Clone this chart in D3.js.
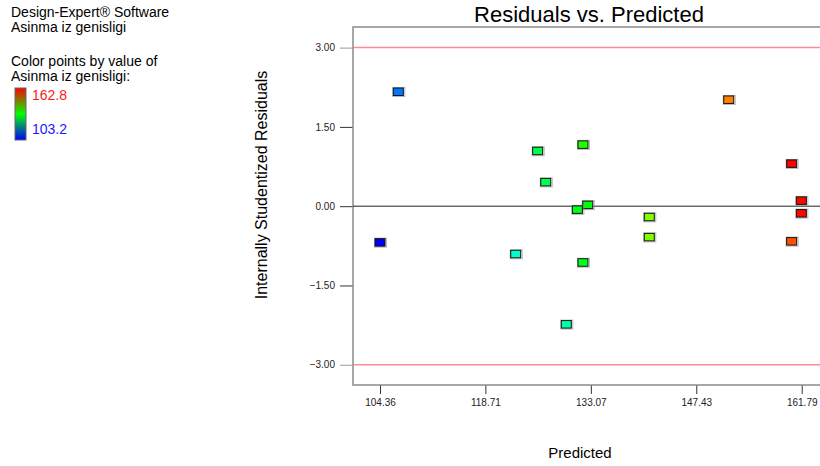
<!DOCTYPE html>
<head>
    <meta charset="utf-8">
</head>

<style type="text/css">
    body {
        margin: 0;
        background: #fff;
        font-family: "Liberation Sans", Arial, sans-serif;
    }
    .info text {
        font-size: 14px;
        fill: #000;
    }
    .axis text {
        font-size: 10px;
        fill: #222;
    }
    .axis path.domain {
        display: none;
    }
    .axis line {
        stroke: #333;
    }
    .limit-line {
        stroke: #ff8c8c;
        stroke-width: 1.5;
    }
    .zero-line {
        stroke: #222;
        stroke-width: 1;
    }
    .frame {
        stroke: #8a8a8a;
        stroke-width: 1.5;
        fill: none;
    }
    .pt {
        stroke: #111;
        stroke-width: 1;
    }
    .pt-shadow {
        fill: none;
        stroke: #999;
        stroke-width: 1;
        opacity: 0.7;
    }
</style>

<body>
<div id="chart"></div>
</body>

<script src="https://d3js.org/d3.v7.min.js"></script>

<script>

// predicted values (x), internally studentized residuals (y), actual response (colour)
var predicted = [106.85, 151.85, 132.0, 125.83, 160.42, 126.93, 161.74, 132.65, 131.24, 161.74, 141.03, 141.03, 160.42, 104.36, 122.84, 132.0, 129.73];
var residuals = [2.16, 2.01, 1.16, 1.04, 0.80, 0.45, 0.10, 0.02, -0.07, -0.14, -0.21, -0.59, -0.67, -0.69, -0.91, -1.07, -2.24];
var actual    = [110.2, 155.4, 134.8, 128.5, 162.8, 128.0, 162.5, 132.5, 131.5, 162.5, 140.5, 140.5, 158.0, 103.2, 121.0, 131.5, 123.0];

var xTicks = [104.36, 118.71, 133.07, 147.43, 161.79];
var yTicks = [-3.00, -1.50, 0.00, 1.50, 3.00];
var limits = [-3, 3];
var colorRange = [103.2, 162.8];

var W = 820, H = 466;
var plot = {left: 353, right: 820, top: 27, bottom: 385};

var svg = d3.select("#chart").append("svg")
    .attr("width", W)
    .attr("height", H);

// left info block
var info = svg.append("g").attr("class", "info");
info.append("text").attr("x", 11).attr("y", 17).text("Design-Expert\u00ae Software");
info.append("text").attr("x", 11).attr("y", 32).text("Asinma iz genisligi");
info.append("text").attr("x", 11).attr("y", 66).text("Color points by value of");
info.append("text").attr("x", 11).attr("y", 81).text("Asinma iz genisligi:");

// legend gradient bar
var defs = svg.append("defs");
var grad = defs.append("linearGradient")
    .attr("id", "legend-grad")
    .attr("x1", 0).attr("y1", 0).attr("x2", 0).attr("y2", 1);
grad.append("stop").attr("offset", "0%").attr("stop-color", "#ff0000");
grad.append("stop").attr("offset", "50%").attr("stop-color", "#00ff00");
grad.append("stop").attr("offset", "100%").attr("stop-color", "#0000ff");

svg.append("rect")
    .attr("x", 15).attr("y", 88)
    .attr("width", 11).attr("height", 52)
    .attr("fill", "url(#legend-grad)")
    .attr("stroke", "#666")
    .attr("stroke-width", 1);

svg.append("text")
    .attr("x", 32).attr("y", 100)
    .attr("fill", "#ff1a1a")
    .style("font-size", "14px")
    .text(colorRange[1].toFixed(1));

svg.append("text")
    .attr("x", 32).attr("y", 134)
    .attr("fill", "#1a1aff")
    .style("font-size", "14px")
    .text(colorRange[0].toFixed(1));

// scales
var xscale = d3.scaleLinear()
    .domain([100.68, 164.28])
    .range([plot.left, plot.right]);

var yscale = d3.scaleLinear()
    .domain([-3.383, 3.39])
    .range([plot.bottom, plot.top]);

var color = d3.scaleLinear()
    .domain([colorRange[0], (colorRange[0] + colorRange[1]) / 2, colorRange[1]])
    .range(["#0000ff", "#00ff00", "#ff0000"])
    .interpolate(d3.interpolateHsl);

// title
svg.append("text")
    .attr("x", 589)
    .attr("y", 22)
    .attr("text-anchor", "middle")
    .style("font-size", "22px")
    .text("Residuals vs. Predicted");

// axes
var xAxis = d3.axisBottom(xscale)
    .tickValues(xTicks)
    .tickSize(9)
    .tickPadding(5)
    .tickFormat(d3.format(".2f"));

var yAxis = d3.axisLeft(yscale)
    .tickValues(yTicks)
    .tickSize(13)
    .tickPadding(5)
    .tickFormat(d3.format(".2f"));

svg.append("g")
    .attr("class", "x axis")
    .attr("transform", "translate(0," + plot.bottom + ")")
    .call(xAxis);

svg.append("g")
    .attr("class", "y axis")
    .attr("transform", "translate(" + plot.left + ",0)")
    .call(yAxis);

svg.selectAll(".y.axis .tick line")
    .style("stroke", function(d) { return Math.abs(d) === 3 ? "#999" : "#333"; });

// frame: left, bottom, top
svg.append("path")
    .attr("class", "frame")
    .attr("d", "M" + plot.right + "," + plot.top + "H" + plot.left + "V" + plot.bottom + "H" + plot.right);

// limit and zero lines
svg.selectAll(".limit-line")
    .data(limits)
    .enter()
    .append("line")
    .attr("class", "limit-line")
    .attr("x1", plot.left + 1).attr("x2", plot.right)
    .attr("y1", function(d) { return yscale(d); })
    .attr("y2", function(d) { return yscale(d); });

svg.append("line")
    .attr("class", "zero-line")
    .attr("x1", plot.left).attr("x2", plot.right)
    .attr("y1", yscale(0)).attr("y2", yscale(0));

// axis titles
svg.append("text")
    .attr("transform", "translate(267," + 185 + ") rotate(-90)")
    .attr("text-anchor", "middle")
    .style("font-size", "16px")
    .text("Internally Studentized Residuals");

svg.append("text")
    .attr("x", 580)
    .attr("y", 458)
    .attr("text-anchor", "middle")
    .style("font-size", "15px")
    .text("Predicted");

// points
var data = predicted.map(function(p, i) {
    return {pred: p, res: residuals[i], act: actual[i]};
});

var pts = svg.append("g").selectAll(".pt-g")
    .data(data)
    .enter()
    .append("g")
    .attr("class", "pt-g")
    .attr("transform", function(d) {
        return "translate(" + xscale(d.pred) + "," + yscale(d.res) + ")";
    });

pts.append("rect")
    .attr("class", "pt-shadow")
    .attr("x", -5.5).attr("y", -4.5)
    .attr("width", 12).attr("height", 9);

pts.append("rect")
    .attr("class", "pt")
    .attr("x", -5).attr("y", -4)
    .attr("width", 10).attr("height", 7.5)
    .attr("fill", function(d) { return color(d.act); });

</script>
